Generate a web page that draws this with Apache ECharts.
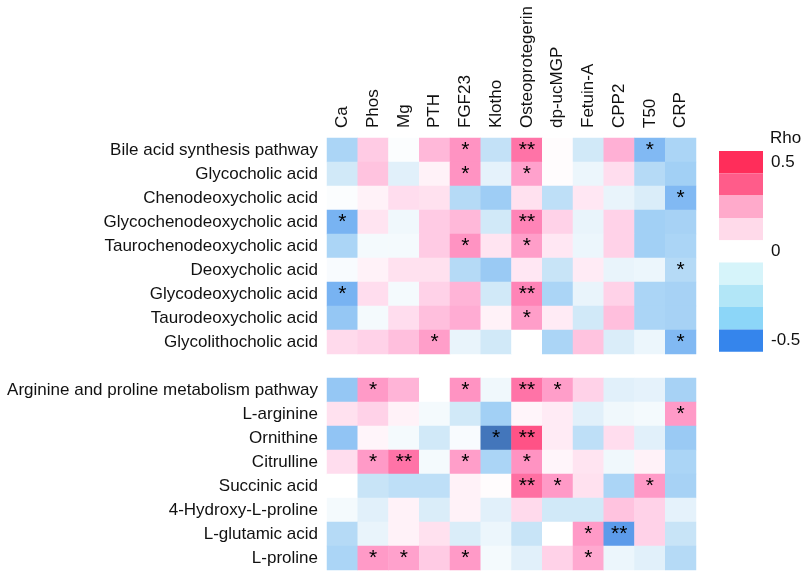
<!DOCTYPE html>
<html>
<head>
<meta charset="utf-8">
<script src="https://cdn.jsdelivr.net/npm/echarts@6/dist/echarts.min.js"></script>
<style>
  html, body { margin: 0; padding: 0; background: #fff; }
  #heatmap { width: 802px; height: 578px; }
</style>
</head>
<body>
<div id="heatmap"></div>
<script>
var columns = ['Ca', 'Phos', 'Mg', 'PTH', 'FGF23', 'Klotho', 'Osteoprotegerin', 'dp-ucMGP', 'Fetuin-A', 'CPP2', 'T50', 'CRP'];

// bile acid block
var bileRows = ['Bile acid synthesis pathway', 'Glycocholic acid', 'Chenodeoxycholic acid', 'Glycochenodeoxycholic acid',
  'Taurochenodeoxycholic acid', 'Deoxycholic acid', 'Glycodeoxycholic acid', 'Taurodeoxycholic acid', 'Glycolithocholic acid'];
var bileRho = [
  [-0.20, 0.15, -0.01, 0.20, 0.30, -0.15, 0.38, 0.01, -0.12, 0.22, -0.30, -0.20],
  [-0.12, 0.17, -0.08, 0.04, 0.30, -0.07, 0.26, 0.01, -0.05, 0.10, -0.18, -0.22],
  [-0.01, 0.04, 0.10, 0.09, -0.18, -0.23, 0.09, -0.16, 0.07, -0.06, -0.10, -0.30],
  [-0.32, 0.08, -0.04, 0.15, 0.20, -0.12, 0.34, 0.13, -0.06, 0.13, -0.22, -0.21],
  [-0.20, -0.03, -0.03, 0.15, 0.30, 0.08, 0.27, 0.07, -0.05, 0.13, -0.22, -0.20],
  [-0.02, 0.04, 0.09, 0.09, -0.18, -0.24, 0.07, -0.14, 0.06, -0.06, -0.05, -0.18],
  [-0.32, 0.10, -0.03, 0.13, 0.21, -0.12, 0.34, -0.20, -0.06, 0.13, -0.20, -0.21],
  [-0.25, -0.03, 0.10, 0.18, 0.23, 0.04, 0.27, 0.06, -0.12, 0.18, -0.20, -0.21],
  [0.11, 0.13, 0.18, 0.27, -0.06, -0.12, 0.00, -0.20, 0.17, -0.10, -0.05, -0.30]
];
var bileSig = [
  ['', '', '', '', '*', '', '**', '', '', '', '*', ''],
  ['', '', '', '', '*', '', '*', '', '', '', '', ''],
  ['', '', '', '', '', '', '', '', '', '', '', '*'],
  ['*', '', '', '', '', '', '**', '', '', '', '', ''],
  ['', '', '', '', '*', '', '*', '', '', '', '', ''],
  ['', '', '', '', '', '', '', '', '', '', '', '*'],
  ['*', '', '', '', '', '', '**', '', '', '', '', ''],
  ['', '', '', '', '', '', '*', '', '', '', '', ''],
  ['', '', '', '*', '', '', '', '', '', '', '', '*']
];

// arginine / proline block
var argRows = ['Arginine and proline metabolism pathway', 'L-arginine', 'Ornithine', 'Citrulline',
  'Succinic acid', '4-Hydroxy-L-proline', 'L-glutamic acid', 'L-proline'];
var argRho = [
  [-0.25, 0.28, 0.21, 0.00, 0.30, -0.04, 0.38, 0.27, 0.13, -0.08, -0.07, -0.21],
  [0.09, 0.13, 0.04, -0.03, -0.12, -0.22, 0.03, 0.06, -0.08, -0.04, -0.03, 0.28],
  [-0.26, 0.03, -0.03, -0.12, -0.02, -0.52, 0.47, 0.06, -0.16, 0.10, -0.08, -0.24],
  [0.10, 0.28, 0.38, -0.03, 0.27, -0.20, 0.30, 0.03, 0.08, -0.04, 0.04, -0.20],
  [0.00, -0.14, -0.16, -0.16, 0.04, 0.01, 0.39, 0.28, 0.09, -0.20, 0.28, -0.21],
  [-0.03, -0.08, 0.04, -0.10, 0.04, -0.08, 0.11, -0.12, -0.12, 0.17, 0.13, -0.07],
  [-0.18, -0.06, 0.04, 0.09, -0.10, -0.05, -0.14, 0.00, 0.28, -0.40, 0.13, -0.14],
  [-0.20, 0.28, 0.26, 0.15, 0.28, -0.03, -0.08, 0.13, 0.24, -0.05, -0.08, -0.18]
];
var argSig = [
  ['', '*', '', '', '*', '', '**', '*', '', '', '', ''],
  ['', '', '', '', '', '', '', '', '', '', '', '*'],
  ['', '', '', '', '', '*', '**', '', '', '', '', ''],
  ['', '*', '**', '', '*', '', '*', '', '', '', '', ''],
  ['', '', '', '', '', '', '**', '*', '', '', '*', ''],
  ['', '', '', '', '', '', '', '', '', '', '', ''],
  ['', '', '', '', '', '', '', '', '*', '**', '', ''],
  ['', '*', '*', '', '*', '', '', '', '*', '', '', '']
];

var legendTicks = ['0.5', '0', '-0.5'];

// y categories: bile block, empty spacer row, arginine block
var rows = bileRows.concat([' '], argRows);
var cells = [];
function addBlock(names, rho, sig, offset) {
  names.forEach(function (name, r) {
    columns.forEach(function (col, c) {
      cells.push({ value: [c, r + offset, rho[r][c]], sig: sig[r][c] });
    });
  });
}
addBlock(bileRows, bileRho, bileSig, 0);
addBlock(argRows, argRho, argSig, bileRows.length + 1);

var font = '"Liberation Sans", Arial, Helvetica, sans-serif';
var chart = echarts.init(document.getElementById('heatmap'));
chart.setOption({
  animation: false,
  textStyle: { fontFamily: font },
  title: {
    text: 'Rho',
    left: 765,
    top: 125,
    textStyle: { fontSize: 17, fontWeight: 'normal', color: '#111', fontFamily: font }
  },
  grid: { left: 327, right: 106, top: 138, height: 432 },
  xAxis: {
    type: 'category',
    position: 'top',
    data: columns,
    axisLine: { show: false },
    axisTick: { show: false },
    splitLine: { show: false },
    axisLabel: { rotate: -90, margin: 10, fontSize: 17, color: '#111', interval: 0 }
  },
  yAxis: {
    type: 'category',
    data: rows,
    inverse: true,
    axisLine: { show: false },
    axisTick: { show: false },
    splitLine: { show: false },
    axisLabel: { margin: 9, fontSize: 17, color: '#111', interval: 0 }
  },
  visualMap: [{
    type: 'continuous',
    show: false,
    seriesIndex: 0,
    dimension: 2,
    min: -0.55,
    max: 0.55,
    inRange: {
      color: ['#3f6cab', '#4f8fe6', '#74b0f2', '#a2d0f5', '#d6ebf8', '#ffffff',
              '#ffdaec', '#ffb0d5', '#ff88bb', '#ff5a8e', '#ff3d70']
    }
  }, {
    type: 'piecewise',
    seriesIndex: 1,
    left: 719,
    top: 151,
    padding: 0,
    align: 'left',
    itemWidth: 44,
    itemHeight: 22.3,
    itemGap: 0,
    itemSymbol: 'rect',
    selectedMode: false,
    hoverLink: false,
    textGap: 8,
    textStyle: { fontSize: 17, color: '#111' },
    pieces: [
      { min: -0.5, max: -0.4, color: '#3585ec', label: legendTicks[2] },
      { min: -0.4, max: -0.3, color: '#8cd6f8', label: ' ' },
      { min: -0.3, max: -0.2, color: '#b2e6f7', label: ' ' },
      { min: -0.2, max: -0.1, color: '#d6f4fa', label: ' ' },
      { min: -0.1, max: 0.1, color: '#ffffff', label: legendTicks[1] },
      { min: 0.1, max: 0.2, color: '#ffdaea', label: ' ' },
      { min: 0.2, max: 0.3, color: '#ffaacb', label: ' ' },
      { min: 0.3, max: 0.4, color: '#ff5c8a', label: ' ' },
      { min: 0.4, max: 0.5, color: '#ff2d5a', label: legendTicks[0] }
    ]
  }],
  series: [{
    type: 'heatmap',
    data: cells,
    label: {
      show: true,
      fontSize: 21,
      color: '#000',
      padding: [9, 0, 0, 0],
      formatter: function (p) { return p.data.sig; }
    },
    emphasis: { disabled: true }
  }, {
    type: 'line',
    data: []
  }]
});
</script>
</body>
</html>
